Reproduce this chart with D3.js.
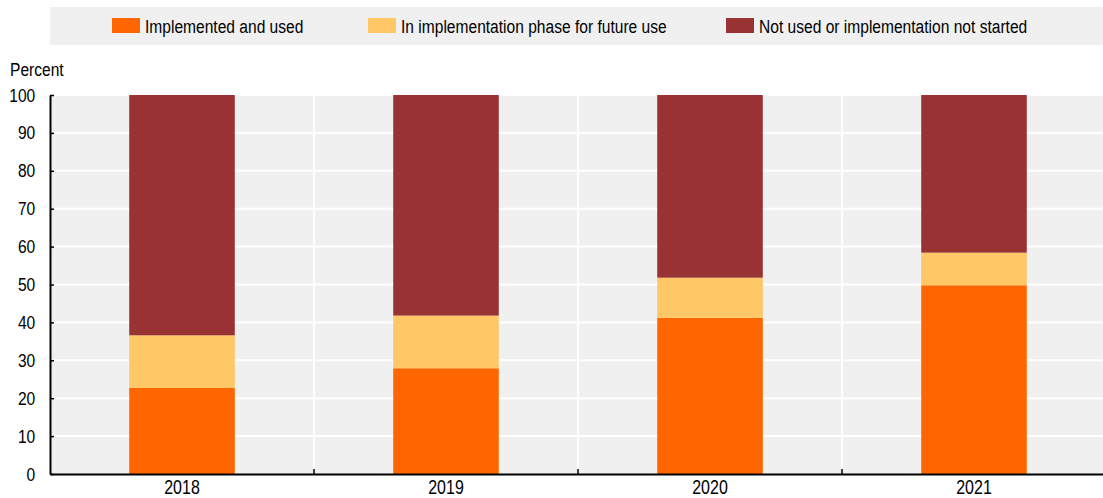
<!DOCTYPE html>
<html>
<head>
<meta charset="utf-8">
<script src="https://cdn.jsdelivr.net/npm/d3@7"></script>
<style>
    body { margin: 0; background: #fff; }
    text { font-family: "Liberation Sans", Arial, sans-serif; }
</style>
</head>
<body>
<div id="chart"></div>
<script>
var years = ["2018", "2019", "2020", "2021"];
var implemented = [22.7, 27.9, 41.2, 49.8];
var inPhase = [13.9, 13.9, 10.6, 8.6];
var notUsed = [63.4, 58.2, 48.2, 41.6];
var yTicks = [0, 10, 20, 30, 40, 50, 60, 70, 80, 90, 100];
var seriesNames = ["Implemented and used", "In implementation phase for future use", "Not used or implementation not started"];
var colors = ["#ff6600", "#ffc766", "#993333"];

function init() {
    var W = 1103, H = 498;
    var margin = {top: 95, left: 50, bottom: 24};
    var w = 1056;
    var h = H - margin.top - margin.bottom;
    var squeeze = "scale(0.82,1)";   // narrow look of the original font

    var svg = d3.select("#chart")
        .append("svg")
        .attr("width", W)
        .attr("height", H);

    // legend box
    svg.append("rect")
        .attr("x", 50).attr("y", 7)
        .attr("width", W - 50).attr("height", 38)
        .attr("fill", "#f0f0f0");

    var legendX = [112, 368, 726];
    seriesNames.forEach(function(name, i) {
        svg.append("rect")
            .attr("x", legendX[i]).attr("y", 18)
            .attr("width", 28).attr("height", 15)
            .attr("fill", colors[i]);
        svg.append("text")
            .attr("transform", "translate(" + (legendX[i] + 33) + ",33) " + squeeze)
            .attr("font-size", 19)
            .attr("fill", "#000")
            .text(name);
    });

    var data = years.map(function(y, i) {
        return {year: y, a: implemented[i], b: inPhase[i], c: notUsed[i]};
    });

    var stack = d3.stack().keys(["a", "b", "c"]);
    var series = stack(data);

    var g = svg.append("g")
        .attr("transform", "translate(" + margin.left + "," + margin.top + ")");

    g.append("rect")
        .attr("width", w).attr("height", h)
        .attr("fill", "#f0f0f0");

    var xScale = d3.scaleBand()
        .domain(years)
        .range([0, w])
        .paddingInner(0.6)
        .paddingOuter(0.3);

    var yScale = d3.scaleLinear()
        .domain([0, 100])
        .range([h, 0]);

    // horizontal grid
    g.selectAll(".hgrid")
        .data(yTicks.slice(1))
        .enter().append("line")
        .attr("x1", 0).attr("x2", w)
        .attr("y1", function(d) { return yScale(d); })
        .attr("y2", function(d) { return yScale(d); })
        .attr("stroke", "#fff")
        .attr("stroke-width", 2);

    // vertical grid between categories
    var step = xScale.step();
    var bounds = years.slice(1).map(function(y) {
        return xScale(y) + xScale.bandwidth() / 2 - step / 2;
    });
    g.selectAll(".vgrid")
        .data(bounds)
        .enter().append("line")
        .attr("x1", function(d) { return d; })
        .attr("x2", function(d) { return d; })
        .attr("y1", 0).attr("y2", h)
        .attr("stroke", "#fff")
        .attr("stroke-width", 2);

    // bars
    g.selectAll(".layer")
        .data(series)
        .enter().append("g")
        .attr("fill", function(d, i) { return colors[i]; })
        .selectAll("rect")
        .data(function(d) { return d; })
        .enter().append("rect")
        .attr("x", function(d) { return xScale(d.data.year); })
        .attr("y", function(d) { return yScale(d[1]); })
        .attr("height", function(d) { return yScale(d[0]) - yScale(d[1]); })
        .attr("width", xScale.bandwidth());

    // y axis
    var yAxis = g.append("g")
        .call(d3.axisLeft(yScale).tickValues(yTicks).tickSize(-4).tickSizeOuter(0).tickPadding(18));
    yAxis.select(".domain").attr("stroke", "#000").attr("stroke-width", 2);
    yAxis.selectAll(".tick line").attr("stroke", "#000").attr("stroke-width", 1.5);
    yAxis.selectAll("text")
        .attr("font-size", 19)
        .attr("font-family", "Liberation Sans, Arial, sans-serif")
        .attr("fill", "#000")
        .attr("transform", squeeze);

    // x axis
    var xAxis = g.append("g")
        .attr("transform", "translate(0," + h + ")")
        .call(d3.axisBottom(xScale).tickSize(0).tickSizeOuter(0).tickPadding(6));
    xAxis.select(".domain").attr("stroke", "#000").attr("stroke-width", 2);
    xAxis.selectAll("text")
        .attr("font-size", 19.5)
        .attr("font-family", "Liberation Sans, Arial, sans-serif")
        .attr("fill", "#000")
        .attr("transform", squeeze);

    g.selectAll(".xtick")
        .data(bounds)
        .enter().append("line")
        .attr("x1", function(d) { return d; })
        .attr("x2", function(d) { return d; })
        .attr("y1", h).attr("y2", h - 5)
        .attr("stroke", "#000")
        .attr("stroke-width", 1.5);

    svg.append("text")
        .attr("transform", "translate(10,76) " + squeeze)
        .attr("font-size", 19)
        .attr("fill", "#000")
        .text("Percent");
}

window.onload = init;
</script>
</body>
</html>
